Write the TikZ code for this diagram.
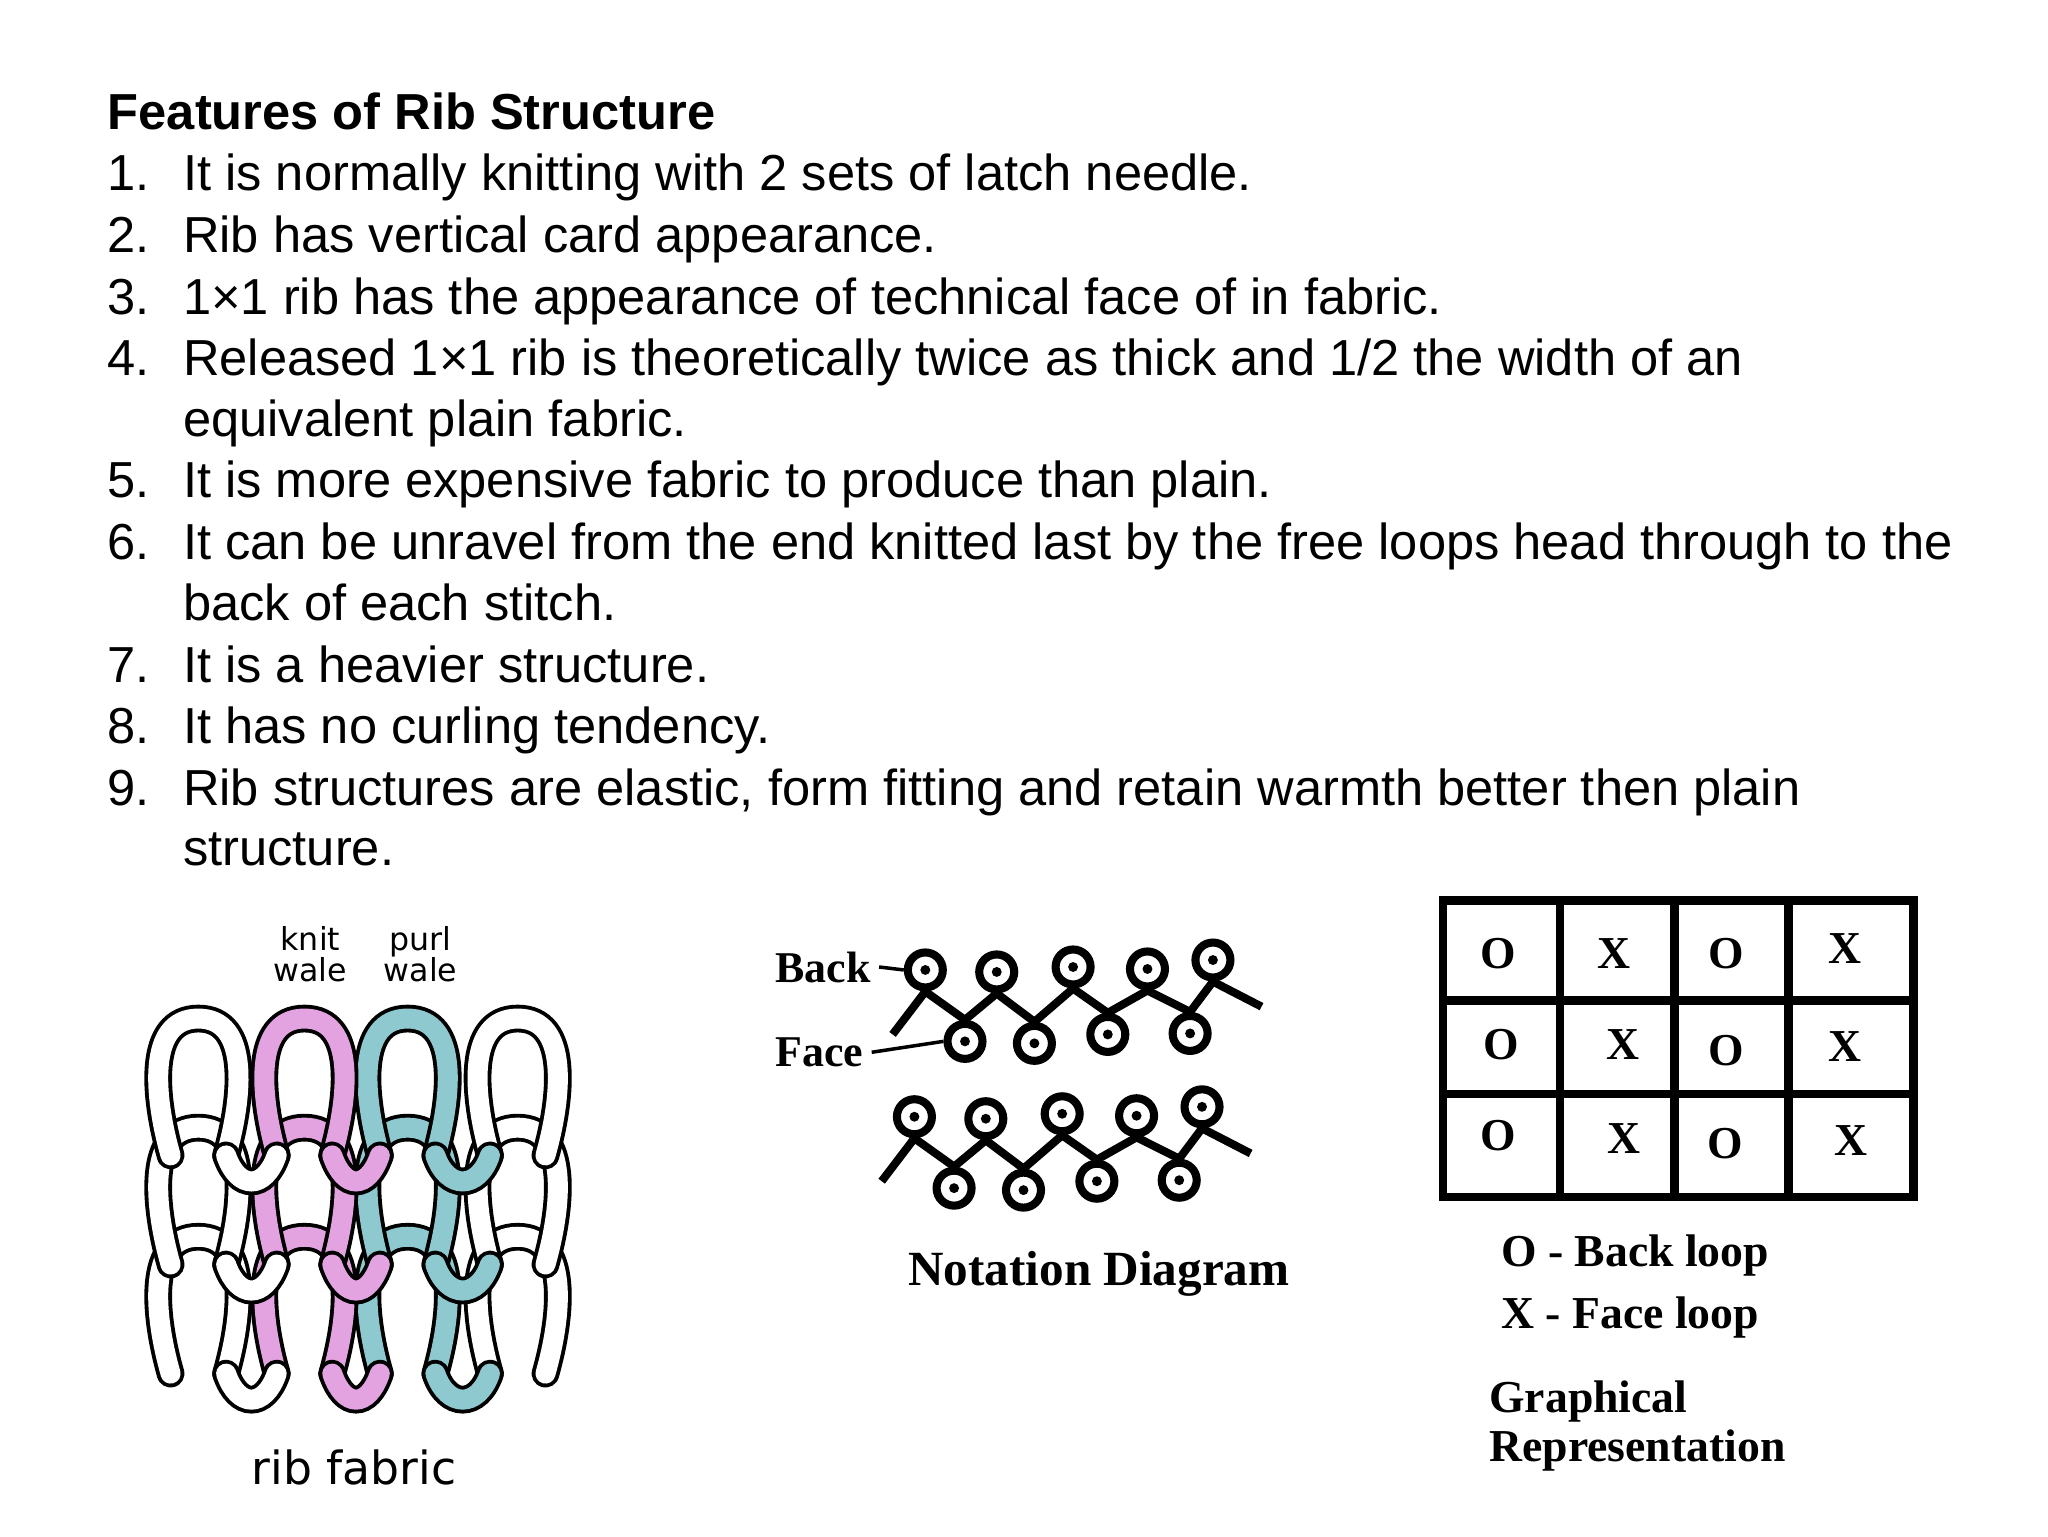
\documentclass[tikz,border=0pt]{standalone}
\usepackage{fontspec}
\setmainfont{Liberation Sans}
\newfontfamily\serifb{Liberation Serif}
\newfontfamily\comic{DejaVu Sans}
\definecolor{pinkw}{HTML}{E3A3E0}
\definecolor{tealw}{HTML}{8FC9D0}
\tikzset{
  txt/.style={anchor=base west,inner sep=0pt,font=\fontsize{14.4pt}{17pt}\selectfont},
  yarn/.style={draw=black,line width=1.1pt,double=#1,double distance=0.2cm,line cap=round},
  ring/.style={circle,draw=black,line width=2.3pt,minimum size=0.35cm,inner sep=0pt,fill=white},
  zig/.style={line width=2.3pt},
  cell/.style={font=\serifb\bfseries\fontsize{13pt}{15pt}\selectfont,inner sep=0pt},
  lab/.style={font=\serifb\bfseries\fontsize{12.5pt}{15pt}\selectfont,inner sep=0pt,anchor=west},
  wl/.style={font=\comic\fontsize{9pt}{9pt}\selectfont,align=center,inner sep=0pt}
}
\newcommand\riblp[3]{%
  \draw[yarn=#3] ({#1-28},{#2+100}) .. controls ({#1-45},{#2+40}) and ({#1-52},{#2-38}) .. ({#1},{#2-38})
     .. controls ({#1+52},{#2-38}) and ({#1+45},{#2+40}) .. ({#1+28},{#2+100});}
\newcommand\sinker[4]{%
  \draw[yarn=#4] ({#1+28},{#3+100}) .. controls ({#1+40},{#3+135}) and ({#2-40},{#3+135}) .. ({#2-28},{#3+100});}
\begin{document}
\begin{tikzpicture}[x=0.009917cm,y=-0.009917cm]
\useasboundingbox (0,0) rectangle (2065,1549);
\fill[white] (0,0) rectangle (2065,1549);
% ---- text
\node[txt,font=\bfseries\fontsize{14.4pt}{17pt}\selectfont] (title) at (108,131) {Features of Rib Structure};
\foreach \n/\y/\t in {
 1./174/{It is normally knitting with 2 sets of latch needle.},
 2./237/{Rib has vertical card appearance.},
 3./299/{1×1 rib has the appearance of technical face of in fabric.},
 4./361/{Released 1×1 rib is theoretically twice as thick and 1/2 the width of an},
 5./484/{It is more expensive fabric to produce than plain.},
 6./546/{It can be unravel from the end knitted last by the free loops head through to the},
 7./670/{It is a heavier structure.},
 8./732/{It has no curling tendency.},
 9./794/{Rib structures are elastic, form fitting and retain warmth better then plain}}
 {\node[txt] (n\n) at (108,\y+18) {\n}; \node[txt] (t\n) at (184,\y+18) {\t};}
\node[txt] (c4) at (184,440) {equivalent plain fabric.};
\node[txt] (c6) at (184,626) {back of each stitch.};
\node[txt] (c9) at (184,873) {structure.};
% ---- rib fabric
\foreach \y in {1285,1175,1065}{
  \riblp{200}{\y}{white}
  \riblp{522}{\y}{white}
  \riblp{411}{\y}{tealw}
  \riblp{307}{\y}{pinkw}
  \sinker{200}{307}{\y}{white}
  \sinker{307}{411}{\y}{pinkw}
  \sinker{411}{522}{\y}{tealw}
}
\node[wl] (kw) at (313,962) {knit\\wale};
\node[wl] (pw) at (424,962) {purl\\wale};
\node[font=\comic\fontsize{13pt}{13pt}\selectfont,inner sep=0pt] (rf) at (357,1480) {rib fabric};
% ---- notation diagram
\foreach \dx/\dy/\r in {0/0/a,-11/148/b}{
\begin{scope}[shift={(\dx,\dy)}]
 \coordinate (s\r) at (900,1043);
 \coordinate (e\r) at (1272,1015);
 \foreach \i/\x/\y in {1/933/978,2/1005/980,3/1082/975,4/1157/977,5/1223/968}
   \node[ring] (b\r\i) at (\x,\y) {};
 \foreach \i/\x/\y in {1/973/1050,2/1043/1052,3/1117/1043,4/1200/1042}
   \node[ring] (f\r\i) at (\x,\y) {};
 \draw[zig] (s\r) -- (b\r1.south) -- (f\r1.north) -- (b\r2.south) -- (f\r2.north) -- (b\r3.south)
   -- (f\r3.north) -- (b\r4.south) -- (f\r4.north) -- (b\r5.south) -- (e\r);
 \foreach \i in {1,...,5} \fill (b\r\i) circle (5);
 \foreach \i in {1,...,4} \fill (f\r\i) circle (5);
\end{scope}}
\node[lab] (back) at (781,975) {Back};
\node[lab] (face) at (781,1061) {Face};
\draw[line width=1pt] (back.east) ++(8,0) coordinate (bl) -- (ba1.west);
\draw[line width=1pt] (face.east) ++(8,0) coordinate (fl) -- (fa1.west);
\node[font=\serifb\bfseries\fontsize{14pt}{16pt}\selectfont,inner sep=0pt] (nd) at (1108,1284) {Notation Diagram};
% ---- grid
\draw[line width=2.5pt] (1455,908) rectangle (1929,1207);
\foreach \x in {1573,1688,1803} \draw[line width=2.5pt] (\x,908) -- (\x,1207);
\foreach \y in {1009,1103} \draw[line width=2.5pt] (1455,\y) -- (1929,\y);
\foreach \x/\y/\t/\k in {1511/961/O/a1,1627/961/X/a2,1741/961/O/a3,1860/956/X/a4,
  1514/1053/O/b1,1636/1053/X/b2,1741/1059/O/b3,1860/1055/X/b4,
  1511/1145/O/c1,1637/1148/X/c2,1740/1153/O/c3,1866/1150/X/c4}
  \node[cell] (g\k) at (\x,\y) {\t};
\node[lab,font=\serifb\bfseries\fontsize{13pt}{15pt}\selectfont] (l1) at (1513,1266) {O - Back loop};
\node[lab,font=\serifb\bfseries\fontsize{13pt}{15pt}\selectfont] (l2) at (1513,1328) {X - Face loop};
\node[lab,font=\serifb\bfseries\fontsize{13pt}{15pt}\selectfont] (l3) at (1501,1413) {Graphical};
\node[lab,font=\serifb\bfseries\fontsize{13pt}{15pt}\selectfont] (l4) at (1501,1463) {Representation};
\end{tikzpicture}
\end{document}
